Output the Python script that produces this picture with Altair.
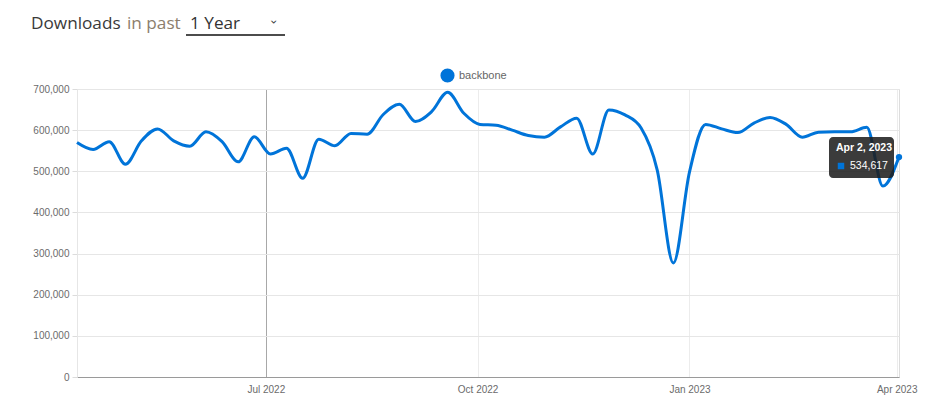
import altair as alt
import pandas as pd

# ---- data (weekly downloads of "backbone") ----
dates = pd.date_range("2022-04-10", periods=52, freq="7D").strftime("%Y-%m-%dT00:00:00").tolist()
downloads = [570000, 553000, 572000, 517000, 574000, 603000, 574000, 561000, 596000, 572000,
             523000, 584000, 542000, 556000, 483000, 578000, 562000, 592000, 590000, 638000,
             663000, 621000, 645000, 692000, 641000, 614000, 612000, 600000, 587000, 583000,
             608000, 629000, 542000, 649000, 637000, 605000, 503000, 277000, 498000, 614000,
             603000, 594000, 617000, 631000, 614000, 583000, 595000, 596000, 596000, 607000,
             464000, 534617]
package = "backbone"
y_ticks = [0, 100000, 200000, 300000, 400000, 500000, 600000, 700000]
x_ticks = [alt.DateTime(year=2022, month=7, date=1), alt.DateTime(year=2022, month=10, date=1),
           alt.DateTime(year=2023, month=1, date=1), alt.DateTime(year=2023, month=4, date=1)]

BLUE = "#0074d9"
LABEL = "#6b6b6b"
df = pd.DataFrame({"date": dates, "downloads": downloads, "package": [package] * len(dates)})
tip_df = df.iloc[[-1]].reset_index(drop=True)

x_enc = alt.X("date:T", title=None,
              scale=alt.Scale(domain=[alt.DateTime(year=2022, month=4, date=10),
                                      alt.DateTime(year=2023, month=4, date=2)], nice=False),
              axis=alt.Axis(values=x_ticks, format="%b %Y", labelPadding=7, tickSize=0,
                            labelColor=LABEL, labelFont="Liberation Sans", labelFontSize=10,
                            domainColor="#9a9a9a", domainWidth=1,
                            gridColor={"condition": {"test": "month(datum.value) == 6", "value": "#a8a8a8"},
                                       "value": "#ececec"}))
y_enc = alt.Y("downloads:Q", title=None,
              scale=alt.Scale(domain=[0, 700000], nice=False),
              axis=alt.Axis(values=y_ticks, labelExpr="format(datum.value, ',')",
                            tickSize=5, labelPadding=3,
                            labelColor=LABEL, labelFont="Liberation Sans", labelFontSize=10,
                            tickColor="#dcdcdc", domainColor="#e6e6e6", gridColor="#e6e6e6"))

line = alt.Chart(df).mark_line(interpolate="monotone", strokeWidth=3).encode(
    x=x_enc, y=y_enc,
    color=alt.Color("package:N", scale=alt.Scale(domain=[package], range=[BLUE]),
                    legend=alt.Legend(title=None, orient="none", legendX=363, legendY=-21,
                                      symbolType="circle", symbolSize=200, symbolStrokeWidth=0,
                                      symbolFillColor=BLUE, symbolStrokeColor=BLUE,
                                      symbolOpacity=1, labelFontSize=11, labelColor="#666",
                                      labelFont="Liberation Sans", labelOffset=4, padding=0)),
)

end_pt = alt.Chart(tip_df).mark_circle(size=40, color=BLUE, opacity=1).encode(
    x=x_enc, y=y_enc)

tip_box = alt.Chart(tip_df).mark_rect(cornerRadius=4, color="#1e1e1e", opacity=0.87).encode(
    x=alt.value(752), x2=alt.value(817), y=alt.value(48), y2=alt.value(89))
tip_date = alt.Chart(tip_df).mark_text(align="left", baseline="middle", fontWeight="bold",
                                       color="white", fontSize=10.5, font="Liberation Sans").encode(
    text=alt.Text("date:T", format="%b %-d, %Y"), x=alt.value(759), y=alt.value(59))
tip_sq = alt.Chart(tip_df).mark_square(size=42, color=BLUE, opacity=1).encode(
    x=alt.value(764), y=alt.value(77))
tip_val = alt.Chart(tip_df).mark_text(align="left", baseline="middle", color="white",
                                      fontSize=10.5, font="Liberation Sans").encode(
    text=alt.Text("downloads:Q", format=","), x=alt.value(773), y=alt.value(77))

# header ("Downloads in past 1 Year")
HFS = 17.2
h1 = alt.Chart(tip_df).mark_text(text="Downloads", align="left", baseline="alphabetic",
                                 fontSize=HFS, font="Open Sans", color="#3a3a3a").encode(
    x=alt.value(-46), y=alt.value(-60))
h2 = alt.Chart(tip_df).mark_text(text="in past", align="left", baseline="alphabetic",
                                 fontSize=HFS, font="Open Sans", color="#8c7e6c").encode(
    x=alt.value(50), y=alt.value(-60))
h3 = alt.Chart(tip_df).mark_text(text="1 Year", align="left", baseline="alphabetic",
                                 fontSize=HFS, font="Open Sans", color="#333333").encode(
    x=alt.value(113), y=alt.value(-60))
chev = alt.Chart(tip_df).mark_text(text="›", align="center", baseline="middle", angle=90,
                                   fontSize=12, font="DejaVu Sans", color="#333333").encode(
    x=alt.value(197), y=alt.value(-67))
underline = alt.Chart(tip_df).mark_rule(color="#111111", strokeWidth=1.5).encode(
    x=alt.value(109), x2=alt.value(208), y=alt.value(-54))

chart = alt.layer(line, end_pt, tip_box, tip_date, tip_sq, tip_val,
                  h1, h2, h3, chev, underline).properties(
    width=822, height=288,
    autosize=alt.AutoSizeParams(type="none"),
    padding={"left": 69, "top": 81, "right": 30, "bottom": 25},
).configure_view(stroke=None).configure(background="white")

chart.save("out.html", embed_options={"renderer": "svg", "actions": False})
